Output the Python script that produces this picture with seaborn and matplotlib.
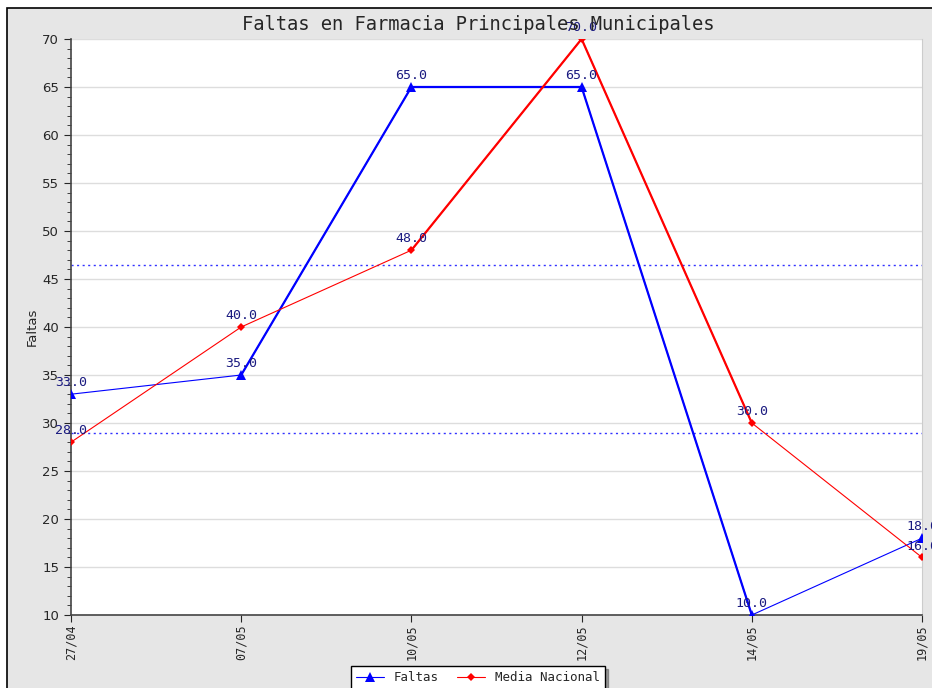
import numpy as np
import pandas as pd
import matplotlib
matplotlib.use("Agg")
import matplotlib.pyplot as plt
from matplotlib.patches import Rectangle
from matplotlib.ticker import MultipleLocator
import seaborn as sns

sns.set_style("white")

fechas = ["27/04", "07/05", "10/05", "12/05", "14/05", "19/05"]
faltas = [33.0, 35.0, 65.0, 65.0, 10.0, 18.0]
media_nacional = [28.0, 40.0, 48.0, 70.0, 30.0, 16.0]
# segmentos dibujados con trazo grueso (indice del punto inicial)
gruesos_faltas = [1, 2, 3]
gruesos_media = [2, 3]
lineas_ref = [46.5, 29.0]

mono = "DejaVu Sans Mono"
azul = "#0000ff"
rojo = "#ff0000"
etiqueta = "#1a1a80"

df = pd.DataFrame({"x": range(len(fechas)), "Faltas": faltas, "Media Nacional": media_nacional})

fig = plt.figure(figsize=(9.32, 6.88), dpi=100)
fig.patch.set_facecolor("white")
fondo = Rectangle((7 / 932, -0.1), 1.1, 1 - 8 / 688 + 0.1, transform=fig.transFigure,
                  facecolor="#e6e6e6", edgecolor="black", linewidth=1.2, zorder=-10)
fig.patches.append(fondo)

ax = fig.add_axes([71 / 932, 1 - 615 / 688, (922 - 71) / 932, (615 - 39) / 688])
ax.set_facecolor("white")

for y in lineas_ref:
    ax.axhline(y, color="#3333ff", linestyle=(0, (1.5, 2.5)), linewidth=1, zorder=2)

def serie(col, color, marker, ms, gruesos, label):
    sns.lineplot(data=df, x="x", y=col, color=color, linewidth=0.8, ax=ax,
                 marker=marker, markersize=ms, markeredgewidth=0, label=label, zorder=3)
    for i in gruesos:
        sns.lineplot(data=df.iloc[i:i + 2], x="x", y=col, color=color, linewidth=1.6,
                     ax=ax, legend=False, zorder=3)

serie("Faltas", azul, "^", 6.5, gruesos_faltas, "Faltas")
serie("Media Nacional", rojo, "D", 4, gruesos_media, "Media Nacional")

for col in ["Faltas", "Media Nacional"]:
    for xi, v in zip(df["x"], df[col]):
        ax.annotate(f"{v:.1f}", (xi, v), xytext=(0, 3.5), textcoords="offset points",
                    ha="center", va="bottom", fontsize=9.5, family=mono, color=etiqueta, zorder=5,
                    annotation_clip=False)

ax.set_xlim(0, len(fechas) - 1)
ax.set_ylim(10, 70)
ax.set_xticks(range(len(fechas)))
ax.set_xticklabels(fechas, rotation=90, family=mono, fontsize=8.5)
ax.yaxis.set_major_locator(MultipleLocator(5))
ax.yaxis.set_minor_locator(MultipleLocator(1))
ax.tick_params(axis="y", which="major", direction="out", length=5, labelsize=9.5, left=True)
ax.tick_params(axis="y", which="minor", direction="out", length=3, left=True)
ax.tick_params(axis="x", direction="out", length=5, pad=2, bottom=True)
ax.grid(axis="y", which="major", color="#dddddd", linewidth=1)
ax.set_axisbelow(True)
for s in ["left", "bottom"]:
    ax.spines[s].set_color("#444444")
    ax.spines[s].set_linewidth(1.2)
ax.spines["top"].set_visible(False)
ax.spines["right"].set_color("#cccccc")

ax.set_xlabel("")
ax.set_ylabel("Faltas", fontsize=9.5)
ax.yaxis.set_label_coords(-0.038, 0.5)

fig.text(478 / 932, 1 - 25 / 688, "Faltas en Farmacia Principales Municipales",
         ha="center", va="center", family=mono, fontsize=13.5)

ax.legend(loc="upper center", bbox_to_anchor=(478 / 932, 1 - 660 / 688),
          bbox_transform=fig.transFigure, ncol=2, frameon=True, fancybox=False,
          shadow=True, edgecolor="black", prop={"family": mono, "size": 9},
          borderpad=0.4, handlelength=2.2, columnspacing=1.5, framealpha=1)

fig.savefig("out.png", dpi=100)
